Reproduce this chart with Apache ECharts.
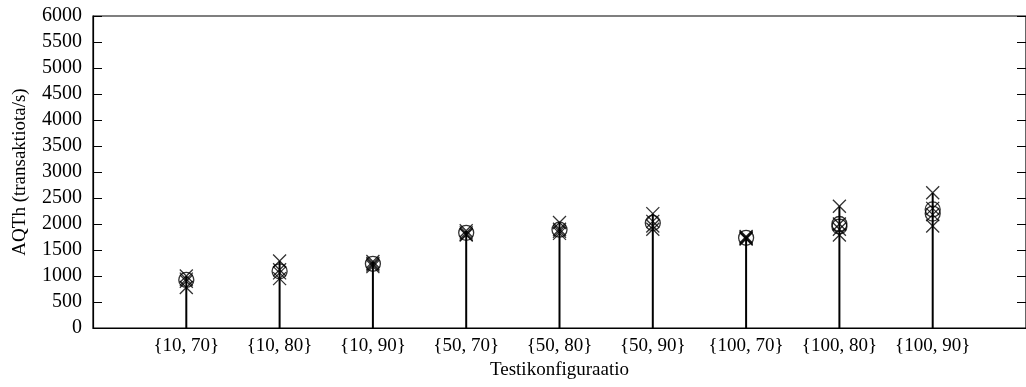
<!DOCTYPE html>
<html>
<head>
<meta charset="utf-8">
<script src="https://cdn.jsdelivr.net/npm/echarts@6/dist/echarts.min.js"></script>
<style>
  html, body { margin: 0; padding: 0; background: #fff; }
  #chart { width: 1026px; height: 387px; }
</style>
</head>
<body>
<div id="chart"></div>
<script>
// Test configurations along the x axis (positions 1..9)
const categories = ['{10, 70}', '{10, 80}', '{10, 90}', '{50, 70}', '{50, 80}', '{50, 90}', '{100, 70}', '{100, 80}', '{100, 90}'];

// Individual run results (transactions/s), one list per configuration
const runs = [
  [1000, 940, 900, 780],
  [1290, 1120, 1060, 950],
  [1280, 1240, 1210, 1180],
  [1870, 1830, 1800, 1790],
  [2030, 1900, 1860, 1820],
  [2200, 2050, 1960, 1900],
  [1760, 1740, 1720, 1710],
  [2340, 2000, 1900, 1790],
  [2600, 2300, 2180, 1960]
];

// Averages shown as circles
const averages = [
  [925],
  [1090],
  [1235],
  [1830],
  [1890],
  [2020],
  [1735],
  [2000, 1950],
  [2280, 2200]
];

// Y axis ticks
const yTicks = [0, 500, 1000, 1500, 2000, 2500, 3000, 3500, 4000, 4500, 5000, 5500, 6000];

const FONT = 'Liberation Serif';

const crossData = [];
runs.forEach((list, i) => list.forEach(v => crossData.push([i + 1, v])));
const circleData = [];
averages.forEach((list, i) => list.forEach(v => circleData.push([i + 1, v])));
const impulseData = runs.map((list, i) => [i + 1, Math.max.apply(null, list)]);

const chart = echarts.init(document.getElementById('chart'), null, { renderer: 'canvas' });
chart.setOption({
  animation: false,
  backgroundColor: '#fff',
  grid: {
    left: 93, top: 16, width: 937, height: 312,
    show: true, borderColor: '#000', borderWidth: 1.2, backgroundColor: 'transparent'
  },
  xAxis: {
    type: 'value',
    min: 0, max: 10, interval: 1,
    name: 'Testikonfiguraatio',
    nameLocation: 'middle',
    nameGap: 32,
    nameTextStyle: { fontFamily: FONT, fontSize: 19, color: '#000' },
    axisLine: { show: true, lineStyle: { color: '#000', width: 1.2 } },
    axisTick: { show: false },
    splitLine: { show: false },
    axisLabel: {
      fontFamily: FONT, fontSize: 19, color: '#000', margin: 9,
      showMinLabel: false, showMaxLabel: false,
      formatter: v => categories[v - 1] || ''
    }
  },
  yAxis: [{
    type: 'value',
    min: 0, max: 6000, interval: 500,
    name: 'AQTh (transaktiota/s)',
    nameLocation: 'middle',
    nameGap: 63,
    nameTextStyle: { fontFamily: FONT, fontSize: 19, color: '#000' },
    axisLine: { show: true, lineStyle: { color: '#000', width: 1.2 } },
    axisTick: { show: true, inside: true, length: 9, lineStyle: { color: '#000', width: 1 } },
    splitLine: { show: false },
    axisLabel: {
      fontFamily: FONT, fontSize: 20, color: '#000', margin: 11,
      formatter: v => (yTicks.indexOf(v) >= 0 ? String(v) : '')
    }
  }, {
    type: 'value',
    position: 'right',
    min: 0, max: 6000, interval: 500,
    axisLine: { show: false },
    axisTick: { show: true, inside: true, length: 9, lineStyle: { color: '#000', width: 1 } },
    splitLine: { show: false },
    axisLabel: { show: false }
  }],
  series: [{
    type: 'bar',
    name: 'impulse',
    data: impulseData,
    barWidth: 2,
    itemStyle: { color: '#000' },
    silent: true,
    z: 2
  }, {
    type: 'scatter',
    name: 'runs',
    data: crossData,
    symbol: 'path://M0,0L10,10M10,0L0,10',
    symbolSize: 13,
    itemStyle: { color: 'rgba(0,0,0,0)', borderColor: '#000', borderWidth: 1.3 },
    z: 3
  }, {
    type: 'scatter',
    name: 'average',
    data: circleData,
    symbol: 'circle',
    symbolSize: 15,
    itemStyle: { color: 'rgba(0,0,0,0)', borderColor: '#000', borderWidth: 1.3 },
    z: 4
  }]
});
</script>
</body>
</html>
